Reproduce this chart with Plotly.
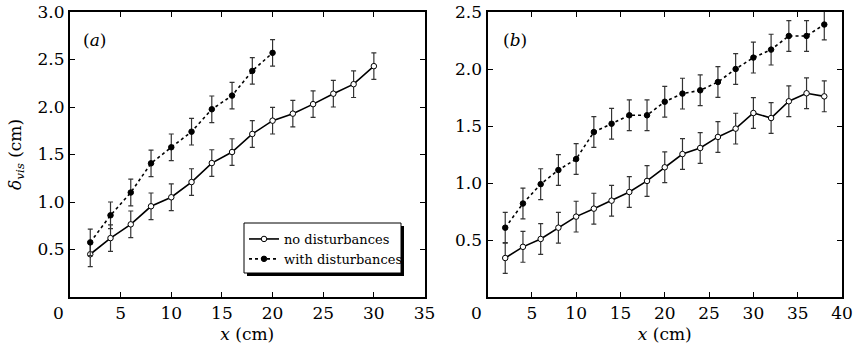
import plotly.graph_objects as go

# ---------------- data ----------------
xa_no = [2, 4, 6, 8, 10, 12, 14, 16, 18, 20, 22, 24, 26, 28, 30]
ya_no = [0.45, 0.62, 0.765, 0.955, 1.05, 1.21, 1.41, 1.526, 1.716, 1.856, 1.93, 2.03, 2.14, 2.24, 2.43]
ea_no = [0.13, 0.14, 0.14, 0.14, 0.14, 0.14, 0.14, 0.14, 0.14, 0.14, 0.14, 0.14, 0.14, 0.14, 0.14]

xa_with = [2, 4, 6, 8, 10, 12, 14, 16, 18, 20]
ya_with = [0.575, 0.86, 1.10, 1.407, 1.576, 1.74, 1.976, 2.12, 2.38, 2.57]
ea_with = [0.14, 0.14, 0.14, 0.14, 0.14, 0.14, 0.14, 0.14, 0.14, 0.14]

xb = [2, 4, 6, 8, 10, 12, 14, 16, 18, 20, 22, 24, 26, 28, 30, 32, 34, 36, 38]
yb_no = [0.342, 0.44, 0.509, 0.608, 0.705, 0.775, 0.845, 0.921, 1.018, 1.138, 1.254, 1.307,
         1.404, 1.477, 1.614, 1.57, 1.717, 1.787, 1.76]
yb_with = [0.608, 0.82, 0.99, 1.114, 1.21, 1.447, 1.52, 1.594, 1.594, 1.713, 1.784, 1.813,
           1.886, 2.0, 2.1, 2.17, 2.29, 2.29, 2.39]
eb = [0.135] * 19

xticks_a = [0, 5, 10, 15, 20, 25, 30, 35]
xticks_b = [0, 5, 10, 15, 20, 25, 30, 35, 40]
yticks_a = [0.5, 1.0, 1.5, 2.0, 2.5, 3.0]
yticks_b = [0.5, 1.0, 1.5, 2.0, 2.5]

names = ["no disturbances", "with disturbances"]
panel_labels = ["(<i>a</i>)", "(<i>b</i>)"]

FONT = "DejaVu Serif, Liberation Serif, serif"
TICK = dict(family=FONT, size=17, color="black")
TITLE = dict(family=FONT, size=17, color="black")

fig = go.Figure()


def add(x, y, e, xa, ya, filled, name, show):
    fig.add_trace(go.Scatter(
        x=x, y=y, xaxis=xa, yaxis=ya, mode="lines+markers", name=name,
        showlegend=show,
        line=dict(color="black", width=1.6, dash="dot" if filled else "solid"),
        marker=dict(size=5.5, color="black" if filled else "white",
                    line=dict(color="black", width=1)),
        error_y=dict(type="data", array=e, color="#333333", thickness=1.2, width=2.5),
    ))


add(xa_no, ya_no, ea_no, "x", "y", False, names[0], True)
add(xa_with, ya_with, ea_with, "x", "y", True, names[1], True)
add(xb, yb_no, eb, "x2", "y2", False, names[0], False)
add(xb, yb_with, eb, "x2", "y2", True, names[1], False)

W, H = 854, 350
ML, MR, MT, MB = 70, 12, 12, 53
PW, PH = W - ML - MR, H - MT - MB


def px_x(p):
    return (p - ML) / PW


def px_y(p):
    return (H - MB - p) / PH


def axis(**kw):
    d = dict(showline=True, linewidth=2, linecolor="black", mirror="ticks",
             ticks="inside", ticklen=5, tickwidth=1, tickcolor="black",
             showgrid=False, zeroline=False, automargin=False, tickfont=TICK)
    d.update(kw)
    return d


fig.update_layout(
    width=W, height=H,
    margin=dict(l=ML, r=MR, t=MT, b=MB, autoexpand=False),
    plot_bgcolor="white",
    xaxis=axis(domain=[0, px_x(424.5)], range=[0, 35], tickvals=xticks_a[1:],
               ticktext=[str(v) for v in xticks_a[1:]],
               title=dict(text="<i>x</i> (cm)", font=TITLE, standoff=6)),
    yaxis=axis(range=[0, 3.0], tickvals=yticks_a,
               ticktext=[f"{v:.1f}" for v in yticks_a],
               title=dict(text="<i>δ</i><sub><i>vis</i></sub> (cm)", font=TITLE, standoff=12)),
    xaxis2=axis(domain=[px_x(487.5), 1], range=[0, 40], anchor="y2",
                tickvals=xticks_b[1:], ticktext=[str(v) for v in xticks_b[1:]],
                title=dict(text="<i>x</i> (cm)", font=TITLE, standoff=6)),
    yaxis2=axis(range=[0, 2.5], anchor="x2", tickvals=yticks_b,
                ticktext=[f"{v:.1f}" for v in yticks_b]),
    legend=dict(x=px_x(244), y=px_y(224), xanchor="left", yanchor="top",
                bgcolor="rgba(0,0,0,0)", borderwidth=0,
                font=dict(family=FONT, size=13, color="black")),
)

# legend frame with drop shadow (drawn as shapes so its size is fixed)
fig.add_shape(type="rect", xref="paper", yref="paper",
              x0=px_x(247), x1=px_x(404), y0=px_y(276), y1=px_y(226),
              fillcolor="black", line=dict(width=0), layer="above")
fig.add_shape(type="rect", xref="paper", yref="paper",
              x0=px_x(244), x1=px_x(401), y0=px_y(273), y1=px_y(223),
              fillcolor="white", line=dict(color="black", width=1), layer="above")

# "0" tick labels, drawn slightly left of the frame as in the reference
fig.add_annotation(x=xticks_a[0], y=0, xref="x", yref="paper", text=str(xticks_a[0]),
                   showarrow=False, yanchor="middle", xshift=-12, yshift=-16, font=TICK)
fig.add_annotation(x=xticks_b[0], y=0, xref="x2", yref="paper", text=str(xticks_b[0]),
                   showarrow=False, yanchor="middle", xshift=-11, yshift=-16, font=TICK)

# panel labels
fig.add_annotation(x=0.069, y=0.9, xref="x domain", yref="y domain", text=panel_labels[0],
                   showarrow=False, xanchor="center", yanchor="middle", font=TICK)
fig.add_annotation(x=0.078, y=0.9, xref="x2 domain", yref="y2 domain", text=panel_labels[1],
                   showarrow=False, xanchor="center", yanchor="middle", font=TICK)

post = ("document.querySelectorAll('.main-svg text').forEach(function(t){"
        "t.style.setProperty('font-family', '\"DejaVu Serif\", \"Liberation Serif\", serif', 'important');});")

fig.write_html("out.html", post_script=post)
